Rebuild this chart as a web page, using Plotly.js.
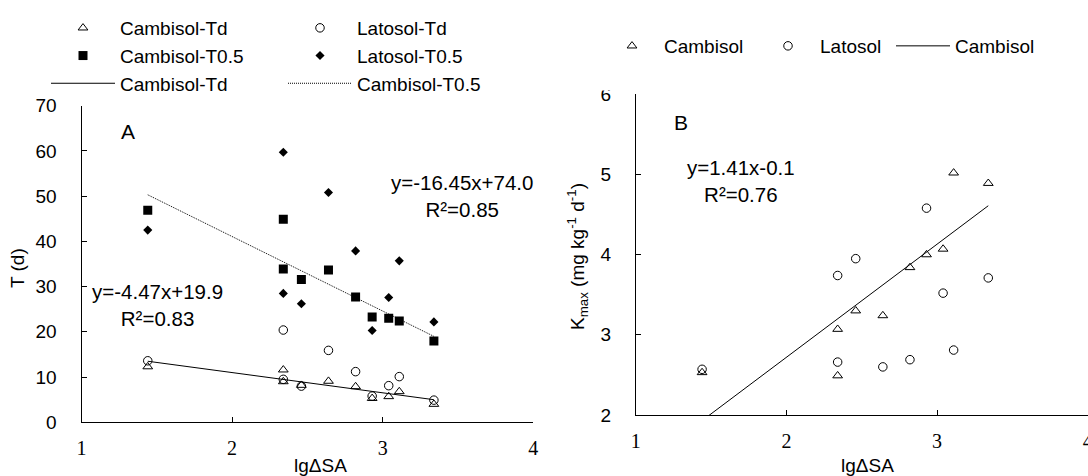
<!DOCTYPE html>
<html>
<head>
<meta charset="utf-8">
<script src="https://cdn.plot.ly/plotly-3.0.1.min.js"></script>
<style>html,body{margin:0;padding:0;background:#fff;}#chart{width:1088px;height:476px;}</style>
</head>
<body>
<div id="chart"></div>
<script>
// ---- data ----
const lgSA = [1.44, 2.34, 2.34, 2.46, 2.64, 2.82, 2.93, 3.04, 3.11, 3.34];
const cambisolTd  = [12.3, 11.6, 9.0, 8.2, 9.1, 7.9, 5.3, 5.7, 6.8, 4.0];
const latosolTd   = [13.6, 20.4, 9.5, 8.0, 15.9, 11.2, 5.8, 8.1, 10.1, 4.9];
const cambisolT05 = [46.9, 44.9, 33.9, 31.6, 33.7, 27.7, 23.3, 23.0, 22.4, 18.0];
const latosolT05  = [42.5, 59.7, 28.5, 26.2, 50.8, 37.9, 20.3, 27.6, 35.7, 22.2];
const cambisolK   = [2.53, 3.07, 2.49, 3.30, 3.24, 3.84, 4.00, 4.07, 5.02, 4.89];
const latosolK    = [2.57, 3.74, 2.66, 3.95, 2.60, 2.69, 4.58, 3.52, 2.81, 3.71];
// fitted lines (end points)
const fitX       = [1.44, 3.34];
const fitTdY     = [13.5, 5.0];
const fitT05Y    = [50.3, 19.0];
const fitKY      = [1.93, 4.61];
const xTicks = [1, 2, 3, 4];
const xLabels = ['1', '2', '3', '4'];

const W = 1088, H = 476;
const px = v => v / W;
const py = v => 1 - v / H;
const sans = 'Liberation Sans, Arial, sans-serif';
const serif = 'Liberation Serif, Times New Roman, serif';

const openTri = {symbol: 'triangle-up-open', size: 8.5, color: '#000', line: {width: 1, color: '#000'}};
const openCirc = {symbol: 'circle-open', size: 8.5, color: '#000', line: {width: 1, color: '#000'}};

const traces = [
  {x: lgSA, y: cambisolTd, mode: 'markers', name: 'Cambisol-Td', marker: openTri, legend: 'legend', xaxis: 'x', yaxis: 'y'},
  {x: lgSA, y: cambisolT05, mode: 'markers', name: 'Cambisol-T0.5', marker: {symbol: 'square', size: 9, color: '#000'}, legend: 'legend', xaxis: 'x', yaxis: 'y'},
  {x: fitX, y: fitTdY, mode: 'lines', name: 'Cambisol-Td', line: {color: '#000', width: 1}, legend: 'legend', xaxis: 'x', yaxis: 'y'},
  {x: lgSA, y: latosolTd, mode: 'markers', name: 'Latosol-Td', marker: openCirc, legend: 'legend2', xaxis: 'x', yaxis: 'y'},
  {x: lgSA, y: latosolT05, mode: 'markers', name: 'Latosol-T0.5', marker: {symbol: 'diamond', size: 7, color: '#000'}, legend: 'legend2', xaxis: 'x', yaxis: 'y'},
  {x: fitX, y: fitT05Y, mode: 'lines', name: 'Cambisol-T0.5', line: {color: '#000', width: 1, dash: '1px,1px'}, legend: 'legend2', xaxis: 'x', yaxis: 'y'},
  {x: lgSA, y: cambisolK, mode: 'markers', name: 'Cambisol', marker: openTri, legend: 'legend3', legendwidth: 87, xaxis: 'x2', yaxis: 'y2'},
  {x: lgSA, y: latosolK, mode: 'markers', name: 'Latosol', marker: openCirc, legend: 'legend3', legendwidth: 66, xaxis: 'x2', yaxis: 'y2'},
  {x: fitX, y: fitKY, mode: 'lines', name: 'Cambisol', line: {color: '#000', width: 1}, legend: 'legend3', xaxis: 'x2', yaxis: 'y2'}
];

const xBase = {
  range: [1, 4], tickvals: xTicks, ticktext: xLabels, ticks: 'inside', ticklen: 5, tickcolor: '#000',
  showline: true, linecolor: '#000', linewidth: 1, showgrid: false, zeroline: false, ticklabeloverflow: 'allow',
  tickfont: {family: serif, size: 20, color: '#000'}, ticklabelstandoff: 8, fixedrange: true
};
const yBase = {
  ticks: 'inside', ticklen: 5, tickcolor: '#000', showline: true, linecolor: '#000', linewidth: 1,
  showgrid: false, zeroline: false, tickfont: {family: sans, size: 19, color: '#000'}, ticklabelstandoff: 20, fixedrange: true
};

const legBase = {
  font: {family: sans, size: 19, color: '#000'}, bgcolor: 'rgba(0,0,0,0)', borderwidth: 0,
  xanchor: 'left', yanchor: 'top', itemwidth: 64, tracegroupgap: 0, itemclick: false, itemdoubleclick: false
};

function note(text, x, y, size, extra) {
  return Object.assign({text: text, x: px(x), y: py(y), xref: 'paper', yref: 'paper', showarrow: false,
    xanchor: 'center', yanchor: 'middle', align: 'center', font: {family: sans, size: size, color: '#000'}}, extra || {});
}

const layout = {
  width: W, height: H,
  margin: {l: 0, r: 0, t: 0, b: 0},
  paper_bgcolor: '#fff', plot_bgcolor: '#fff',
  font: {family: sans, color: '#000'},
  showlegend: true,
  xaxis: Object.assign({}, xBase, {domain: [px(81.5), px(533.3)], anchor: 'y'}),
  yaxis: Object.assign({}, yBase, {domain: [py(422.3), py(105.7)], range: [0, 70], dtick: 10, anchor: 'x'}),
  xaxis2: Object.assign({}, xBase, {domain: [px(635.8), px(1087.7)], anchor: 'y2'}),
  yaxis2: Object.assign({}, yBase, {domain: [py(415), py(94.3)], range: [2, 6], dtick: 1, anchor: 'x2'}),
  legend: Object.assign({}, legBase, {x: px(46), y: py(9), orientation: 'v'}),
  legend2: Object.assign({}, legBase, {x: px(283), y: py(9), orientation: 'v'}),
  legend3: Object.assign({}, legBase, {x: px(600), y: py(27), orientation: 'h', itemwidth: 54}),
  shapes: [
    {type: 'rect', xref: 'paper', yref: 'paper', x0: px(592), x1: px(628), y0: py(90.5), y1: py(72),
     fillcolor: '#fff', line: {width: 0}, layer: 'above'}
  ],
  annotations: [
    note('A', 128, 131, 21),
    note('B', 681, 123, 21),
    note('y=-4.47x+19.9<br>R²=0.83', 157, 305, 20.5),
    note('y=-16.45x+74.0<br>R²=0.85', 462, 196, 20.5),
    note('y=1.41x-0.1<br>R²=0.76', 741, 181, 20.5),
    note('T (d)', 17, 268, 19, {textangle: -90}),
    note('K<sub>max</sub> (mg kg<sup>-1</sup> d<sup>-1</sup>)', 577, 257, 19, {textangle: -90}),
    note('lgΔSA', 320, 465, 19),
    note('lgΔSA', 867, 465, 19)
  ]
};

Plotly.newPlot('chart', traces, layout, {staticPlot: true, displayModeBar: false});
</script>
</body>
</html>
